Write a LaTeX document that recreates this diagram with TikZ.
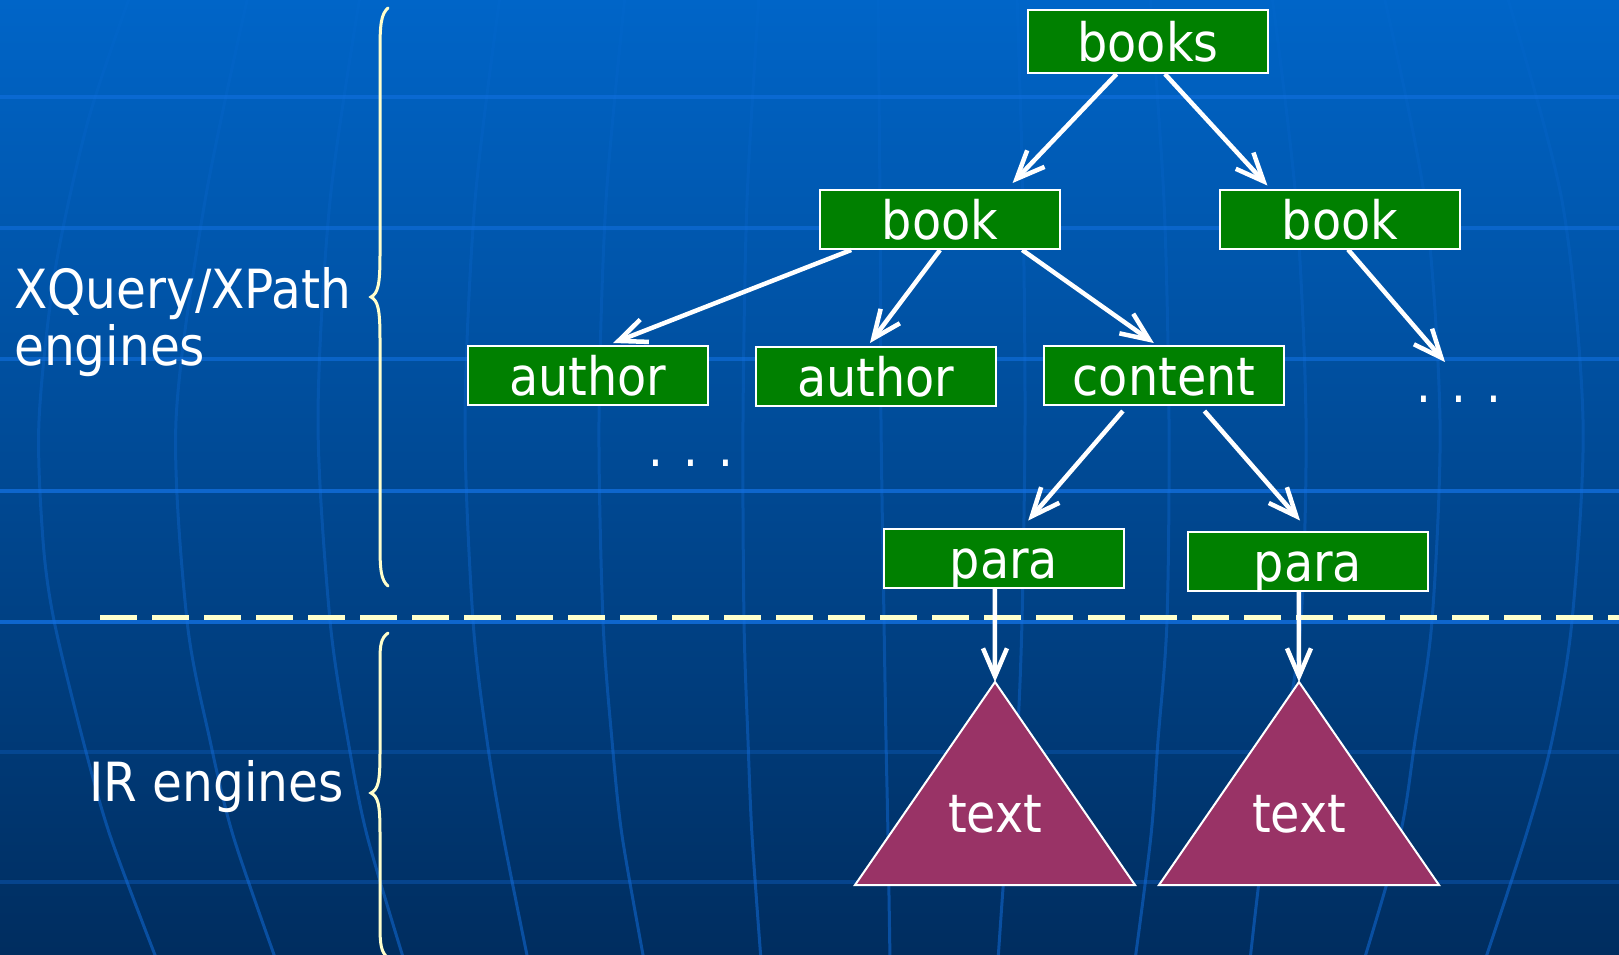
\documentclass[tikz,border=0pt]{standalone}
\usepackage{fontspec}
\setmainfont{DejaVu Sans Condensed}
\usetikzlibrary{arrows.meta,calc,fadings}
\definecolor{bgtop}{RGB}{0,101,200}
\definecolor{bgbot}{RGB}{0,45,95}
\definecolor{gridc}{RGB}{20,115,230}
\definecolor{boxgreen}{RGB}{0,128,0}
\definecolor{trifill}{RGB}{153,51,102}
\definecolor{paleyellow}{RGB}{255,255,204}
\tikzfading[name=meridianfade, top color=transparent!93, bottom color=transparent!50]
\tikzset{
  treebox/.style={draw=white, line width=2pt, fill=boxgreen, minimum width=240pt,
    minimum height=59pt, inner sep=0pt, text=white,
    font=\fontsize{53pt}{57pt}\selectfont, text height=40pt, text depth=0pt},
  sidelabel/.style={text=white, inner sep=0pt, align=left,
    font=\fontsize{54pt}{57pt}\selectfont},
  dotstext/.style={text=white, inner sep=0pt, font=\fontsize{52pt}{57pt}\selectfont},
  tritext/.style={text=white, inner sep=0pt, font=\fontsize{53pt}{57pt}\selectfont},
  tri/.style={draw=white, line width=2pt, fill=trifill, line join=miter},
  arr/.style={draw=white, line width=4.5pt, -{Straight Barb[length=28pt,width=24pt]}},
  bracestyle/.style={draw=paleyellow, line width=3pt, line cap=round},
  gridh/.style={draw=gridc, line width=4pt},
  gridv/.style={draw=gridc, line width=3pt, path fading=meridianfade, fit fading=true},
}
\begin{document}
\begin{tikzpicture}[x=1pt,y=-1pt]
\useasboundingbox (0,0) rectangle (1619,955);
\begin{scope}
\clip (0,0) rectangle (1619,955);
\shade[top color=bgtop, bottom color=bgbot] (0,0) rectangle (1619,955);
% horizontal grid lines
\foreach \yy/\op in {97/0.5, 228/0.5, 359/0.55, 491/0.7, 622/0.75, 752/0.25, 882/0.3}
  \draw[gridh, opacity=\op] (0,\yy) -- (1619,\yy);
% curved meridians
\draw[gridv] plot[smooth] coordinates {(130,-5) (88,120) (55,270) (39,420) (43,540) (54,620) (83,740) (110,835) (157,960)};
\draw[gridv] plot[smooth] coordinates {(248,-5) (205,200) (176,420) (187,620) (210,740) (233,835) (276,960)};
\draw[gridv] plot[smooth] coordinates {(360,-5) (330,200) (318,420) (330,620) (348,740) (367,835) (404,960)};
\draw[gridv] plot[smooth] coordinates {(500,-5) (475,200) (465,420) (473,620) (487,740) (503,835) (528,960)};
\draw[gridv] plot[smooth] coordinates {(625,-5) (606,200) (599,420) (603,620) (612,740) (622,835) (644,960)};
\draw[gridv] plot[smooth] coordinates {(759,-5) (747,200) (743,420) (744,620) (748,740) (752,835) (761,960)};
\draw[gridv] plot[smooth] coordinates {(878,-5) (880,200) (881,420) (884,620) (886,740) (888,835) (890,960)};
\draw[gridv] plot[smooth] coordinates {(1017,-5) (1023,200) (1025,420) (1022,620) (1017,740) (1007,835) (998,960)};
\draw[gridv] plot[smooth] coordinates {(1150,-5) (1164,200) (1169,420) (1167,620) (1158,740) (1151,835) (1135,960)};
\draw[gridv] plot[smooth] coordinates {(1272,-5) (1296,200) (1306,420) (1301,620) (1284,740) (1265,835) (1250,960)};
\draw[gridv] plot[smooth] coordinates {(1384,-5) (1425,200) (1440,420) (1432,620) (1415,740) (1400,835) (1364,960)};
\draw[gridv] plot[smooth] coordinates {(1507,-5) (1562,200) (1583,420) (1572,620) (1552,740) (1526,835) (1485,960)};
\end{scope}

% braces
\draw[bracestyle] (388,8) .. controls (381,14) and (380,25) .. (380,50)
  -- (380,255) .. controls (380,285) and (378,293) .. (371,297)
  .. controls (378,301) and (380,309) .. (380,339)
  -- (380,545) .. controls (380,570) and (381,580) .. (388,586);
\draw[bracestyle] (388,633) .. controls (381,638) and (380,645) .. (380,660)
  -- (380,753) .. controls (380,783) and (378,789) .. (371,793)
  .. controls (378,797) and (380,803) .. (380,833)
  -- (380,925) .. controls (380,945) and (381,952) .. (388,958);

% dashed separator
\coordinate (dashL) at (100,617);
\coordinate (dashR) at (1625,617);
\draw[paleyellow, line width=5pt, dash pattern=on 37pt off 15pt] (dashL) -- (dashR);

% side labels
\node[sidelabel, anchor=base west] (xq) at (14,365) {XQuery/XPath\\engines};
\node[sidelabel, anchor=base west] (ir) at (89,801) {IR engines};

% tree nodes
\node[treebox, minimum height=63pt] (books) at (1148,41.5) {books};
\node[treebox] (book1) at (940,219.5) {book};
\node[treebox] (book2) at (1340,219) {book};
\node[treebox] (author1) at (588,375.5) {author};
\node[treebox] (author2) at (876,376.5) {author};
\node[treebox] (content) at (1164,375.5) {content};
\node[treebox] (para1) at (1004,558) {para};
\node[treebox] (para2) at (1308,561) {para};

% dots
\node[dotstext, anchor=base] (dotsR) at (1459,402) {. . .};
\node[dotstext, anchor=base] (dotsL) at (691,466) {. . .};
\coordinate (dotsRtip) at (1445,362);

% triangles
\coordinate (t1apex) at (995,682);
\coordinate (t2apex) at (1299,682);
\draw[tri] (t1apex) -- (855,885) -- (1135,885) -- cycle;
\draw[tri] (t2apex) -- (1159,885) -- (1439,885) -- cycle;
\node[tritext, anchor=base] (text1) at (995,832) {text};
\node[tritext, anchor=base] (text2) at (1299,832) {text};

% arrows
\draw[arr] ($(books.south west)!0.37!(books.south east)$) -- ($(book1.north west)!0.8!(book1.north east)+(0,-6)$);
\draw[arr] ($(books.south west)!0.57!(books.south east)$) -- ($(book2.north west)!0.2!(book2.north east)+(0,-3)$);
\draw[arr] ($(book1.south west)!0.133!(book1.south east)$) -- ($(author1.north west)!0.604!(author1.north east)+(0,-2)$);
\draw[arr] ($(book1.south west)!0.5!(book1.south east)$) -- ($(author2.north west)!0.475!(author2.north east)+(0,-3)$);
\draw[arr] ($(book1.south west)!0.84!(book1.south east)$) -- ($(content.north west)!0.458!(content.north east)+(0,-2)$);
\draw[arr] ($(book2.south west)!0.533!(book2.south east)$) -- (dotsRtip);
\draw[arr] ($(content.south west)!0.33!(content.south east)+(0,5)$) -- ($(para1.north west)!0.6!(para1.north east)+(0,-7)$);
\draw[arr] ($(content.south west)!0.667!(content.south east)+(0,5)$) -- ($(para2.north west)!0.467!(para2.north east)+(0,-10)$);
\draw[arr] ($(para1.south west)!0.4625!(para1.south east)$) -- (t1apex);
\draw[arr] ($(para2.south west)!0.4625!(para2.south east)$) -- (t2apex);
\end{tikzpicture}
\end{document}
